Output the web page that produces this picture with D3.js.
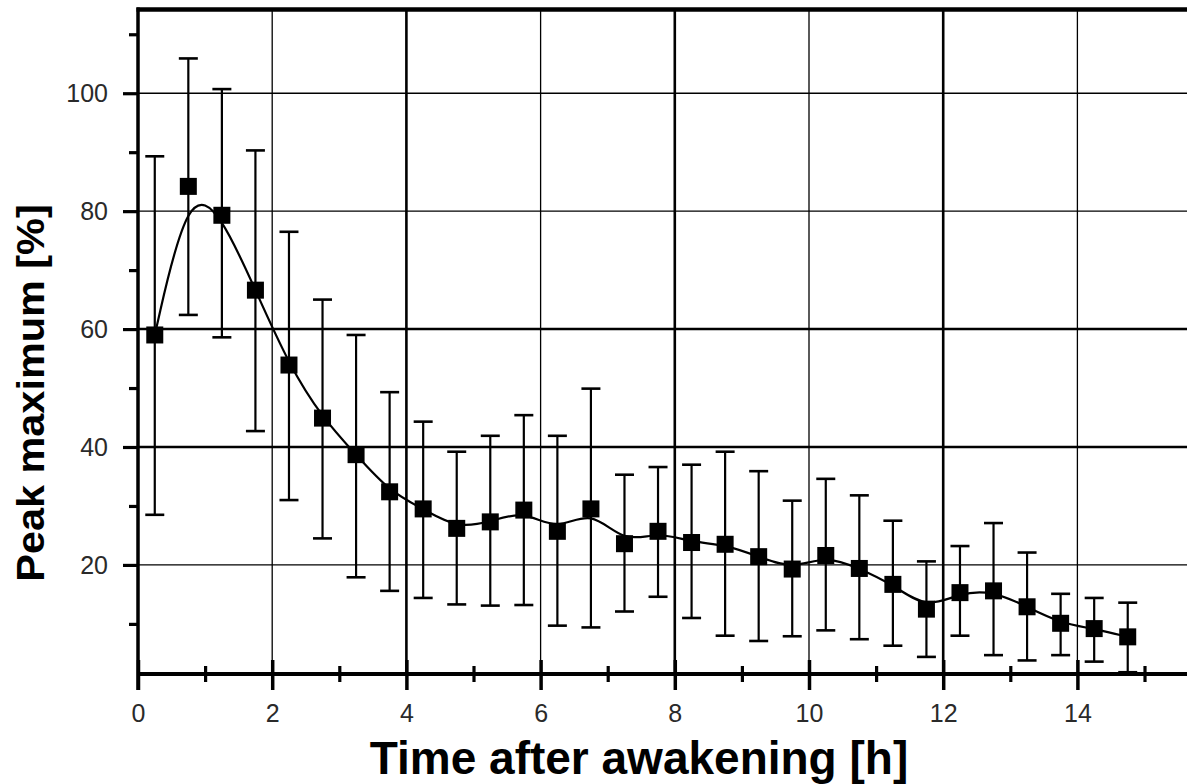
<!DOCTYPE html>
<html>
<head>
<meta charset="utf-8">
<script src="https://cdn.jsdelivr.net/npm/d3@7/dist/d3.min.js"></script>
<style>
  html, body { margin: 0; padding: 0; background: #fff; }
  svg { display: block; }
  text { font-family: "Liberation Sans", Arial, sans-serif; }
</style>
</head>
<body>
<svg id="chart" width="1187" height="784"></svg>
<script>
// ---- data ----
const time  = [0.25, 0.75, 1.25, 1.75, 2.25, 2.75, 3.25, 3.75, 4.25, 4.75,
               5.25, 5.75, 6.25, 6.75, 7.25, 7.75, 8.25, 8.75, 9.25, 9.75,
               10.25, 10.75, 11.25, 11.75, 12.25, 12.75, 13.25, 13.75, 14.25, 14.75];
const peakMean = [59.0, 84.2, 79.3, 66.6, 53.9, 44.9, 38.7, 32.4, 29.5, 26.2,
                  27.3, 29.3, 25.7, 29.5, 23.6, 25.7, 23.8, 23.5, 21.4, 19.3,
                  21.6, 19.4, 16.7, 12.5, 15.3, 15.6, 12.9, 10.1, 9.2, 7.8];
const errUpper = [89.3, 105.9, 100.7, 90.3, 76.5, 65.0, 59.0, 49.3, 44.3, 39.2,
                  41.9, 45.4, 41.9, 49.9, 35.3, 36.6, 37.0, 39.2, 35.9, 30.9,
                  34.6, 31.8, 27.5, 20.6, 23.2, 27.1, 22.1, 15.1, 14.4, 13.6];
const errLower = [28.5, 62.4, 58.6, 42.7, 31.0, 24.5, 17.9, 15.6, 14.4, 13.3,
                  13.1, 13.2, 9.7, 9.4, 12.1, 14.6, 11.0, 8.0, 7.1, 7.9,
                  8.9, 7.4, 6.3, 4.4, 8.0, 4.7, 3.8, 4.7, 3.6, 1.8];
const xMajorTicks = [0, 2, 4, 6, 8, 10, 12, 14];
const xMinorTicks = [1, 3, 5, 7, 9, 11, 13, 15];
const yMajorTicks = [20, 40, 60, 80, 100];
const yMinorTicks = [10, 30, 50, 70, 90, 110];
const xTitle = "Time after awakening [h]";
const yTitle = "Peak maximum [%]";

// ---- layout ----
const svg = d3.select("#chart");
const plotLeft = 138, plotBottom = 674, plotTop = 9.5;
const x = d3.scaleLinear().domain([0, 15.65]).range([plotLeft, plotLeft + 15.65 * 67.1]);
const y = d3.scaleLinear().domain([1.5, 114.2]).range([plotBottom, plotTop]);
const xRight = 1187;

const thickX = new Set([4, 8, 12]);
const thickY = new Set([40, 60]);

// grid
const grid = svg.append("g");
grid.selectAll("line.vg").data(xMajorTicks.filter(d => d > 0)).enter().append("line")
  .attr("x1", d => x(d)).attr("x2", d => x(d))
  .attr("y1", plotTop).attr("y2", plotBottom)
  .attr("stroke", "#000").attr("stroke-width", d => thickX.has(d) ? 2.6 : 1.3);
grid.selectAll("line.hg").data(yMajorTicks).enter().append("line")
  .attr("x1", plotLeft).attr("x2", xRight)
  .attr("y1", d => y(d)).attr("y2", d => y(d))
  .attr("stroke", "#000").attr("stroke-width", d => thickY.has(d) ? 2.6 : 1.3);

// y axis (d3 axis, customised)
const yAxis = svg.append("g").attr("transform", `translate(${plotLeft},0)`)
  .call(d3.axisLeft(y).tickValues(yMajorTicks).tickSize(15).tickPadding(15).tickFormat(d3.format("d")));
yAxis.select(".domain").remove();
yAxis.selectAll(".tick line").attr("stroke", "#000").attr("stroke-width", 3.2);
yAxis.selectAll(".tick text").attr("font-size", 25).attr("fill", "#2a2a2a")
  .attr("font-family", "Liberation Sans, Arial, sans-serif").attr("dy", "0.35em");
const yMinor = svg.append("g").attr("transform", `translate(${plotLeft},0)`)
  .call(d3.axisLeft(y).tickValues(yMinorTicks).tickSize(9).tickFormat(""));
yMinor.select(".domain").remove();
yMinor.selectAll(".tick line").attr("stroke", "#000").attr("stroke-width", 3.2);

// x axis (d3 axis, customised with cross ticks)
const xAxis = svg.append("g").attr("transform", `translate(0,${plotBottom})`)
  .call(d3.axisBottom(x).tickValues(xMajorTicks).tickSize(16).tickFormat(d3.format("d")));
xAxis.select(".domain").remove();
xAxis.selectAll(".tick line").attr("y1", -14).attr("y2", 16)
  .attr("stroke", "#000").attr("stroke-width", 3.5);
xAxis.selectAll(".tick text").attr("font-size", 25).attr("fill", "#2a2a2a")
  .attr("font-family", "Liberation Sans, Arial, sans-serif")
  .attr("y", 48).attr("dy", 0);
const xMinor = svg.append("g").attr("transform", `translate(0,${plotBottom})`)
  .call(d3.axisBottom(x).tickValues(xMinorTicks).tickSize(8).tickFormat(""));
xMinor.select(".domain").remove();
xMinor.selectAll(".tick line").attr("y1", -8).attr("y2", 8)
  .attr("stroke", "#000").attr("stroke-width", 3.2);

// frame lines
svg.append("line").attr("x1", plotLeft).attr("x2", xRight).attr("y1", plotBottom).attr("y2", plotBottom)
  .attr("stroke", "#000").attr("stroke-width", 4);
svg.append("line").attr("x1", plotLeft - 1.5).attr("x2", xRight).attr("y1", plotTop).attr("y2", plotTop)
  .attr("stroke", "#000").attr("stroke-width", 4.5);
svg.append("line").attr("x1", plotLeft).attr("x2", plotLeft).attr("y1", plotTop - 2).attr("y2", plotBottom + 16)
  .attr("stroke", "#000").attr("stroke-width", 3.5);

// error bars
const data = time.map((t, i) => ({ t, m: peakMean[i], hi: errUpper[i], lo: errLower[i] }));
const cap = 9.5;
const eb = svg.append("g").attr("stroke", "#000").attr("stroke-width", 2.2);
eb.selectAll("line.v").data(data).enter().append("line")
  .attr("x1", d => x(d.t)).attr("x2", d => x(d.t))
  .attr("y1", d => y(d.hi)).attr("y2", d => y(d.lo));
eb.selectAll("line.top").data(data).enter().append("line")
  .attr("x1", d => x(d.t) - cap).attr("x2", d => x(d.t) + cap)
  .attr("y1", d => y(d.hi)).attr("y2", d => y(d.hi)).attr("stroke-width", 2.6);
eb.selectAll("line.bot").data(data).enter().append("line")
  .attr("x1", d => x(d.t) - cap).attr("x2", d => x(d.t) + cap)
  .attr("y1", d => y(d.lo)).attr("y2", d => y(d.lo)).attr("stroke-width", 2.6);

// smoothed line
const line = d3.line().x(d => x(d.t)).y(d => y(d.m)).curve(d3.curveBasis);
svg.append("path").datum(data).attr("d", line)
  .attr("fill", "none").attr("stroke", "#000").attr("stroke-width", 2.2);

// markers
const sq = 17;
svg.append("g").selectAll("rect").data(data).enter().append("rect")
  .attr("x", d => x(d.t) - sq / 2).attr("y", d => y(d.m) - sq / 2)
  .attr("width", sq).attr("height", sq).attr("fill", "#000");

// titles
svg.append("text").attr("x", 639).attr("y", 774).attr("text-anchor", "middle")
  .attr("font-size", 46).attr("font-weight", "bold").attr("fill", "#000").text(xTitle);
svg.append("text").attr("transform", "translate(44,393) rotate(-90) scale(1.09,1)").attr("text-anchor", "middle")
  .attr("font-size", 38).attr("font-weight", "bold").attr("fill", "#000").text(yTitle);
</script>
</body>
</html>
